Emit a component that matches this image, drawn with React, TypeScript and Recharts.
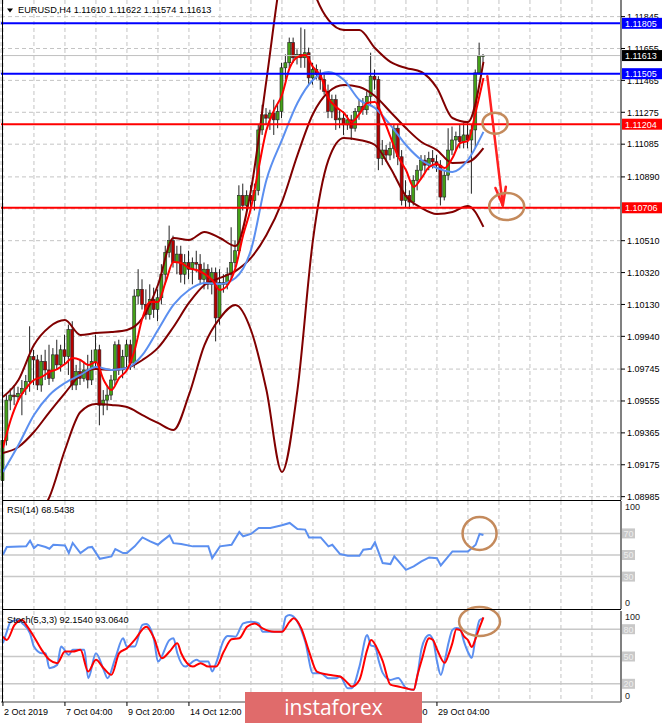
import React from "react";
import {
  ComposedChart,
  Bar,
  Line,
  XAxis,
  YAxis,
  CartesianGrid,
  ReferenceLine,
  ReferenceDot,
} from "recharts";

const FONT = "'Liberation Sans', Arial, sans-serif";
const SLOTS = 160; // bar slots visible across the chart (incl. right shift)
const P_MIN = 1.08965;
const P_MAX = 1.11944;

// ---------- EURUSD H4 candles (bar 0 = 2 Oct 2019 12:00) ----------
const opens = [
  1.0908, 1.0932, 1.0956, 1.0959, 1.0958, 1.096, 1.0963, 1.0967, 1.0982, 1.098,
  1.0965, 1.0979, 1.0974, 1.0969, 1.0983, 1.0977, 1.0986, 1.0982, 1.0998, 1.0965,
  1.0973, 1.0969, 1.0974, 1.0968, 1.0979, 1.0986, 1.0953, 1.0956, 1.0959, 1.0968,
  1.0989, 1.0974, 1.0982, 1.0989, 1.0978, 1.1018, 1.1022, 1.1013, 1.1007, 1.1016,
  1.101, 1.1017, 1.1031, 1.1044, 1.1051, 1.1038, 1.1043, 1.1031, 1.1038, 1.1034,
  1.1038, 1.1037, 1.1028, 1.1034, 1.1025, 1.1032, 1.1005, 1.1026, 1.1025, 1.1031,
  1.1038, 1.1045, 1.1078, 1.1072, 1.1078, 1.1075, 1.1081, 1.1117, 1.1126, 1.1124,
  1.1127, 1.1123, 1.1128, 1.1154, 1.1157, 1.1169, 1.116, 1.1162, 1.116, 1.1163,
  1.1148, 1.1153, 1.115, 1.1147, 1.114, 1.1128, 1.1135, 1.1123, 1.1124, 1.112,
  1.1123, 1.1118, 1.1128, 1.1131, 1.1129, 1.1137, 1.1149, 1.1147, 1.11, 1.1105,
  1.1102, 1.1106, 1.1118, 1.1101, 1.1075, 1.1078, 1.1074, 1.1087, 1.1093, 1.1099,
  1.1096, 1.11, 1.1098, 1.1096, 1.1077, 1.109, 1.1105, 1.1111, 1.1113, 1.111,
  1.1114, 1.1111, 1.1117, 1.1151, 1.1161,
];
const highs = [
  1.0938, 1.0959, 1.0963, 1.0965, 1.0964, 1.0968, 1.0971, 1.1, 1.0986, 1.0983,
  1.0983, 1.0986, 1.0989, 1.0987, 1.0992, 1.0989, 1.0995, 1.1001, 1.1003, 1.0977,
  1.098, 1.0979, 1.0983, 1.0986, 1.0995, 1.0989, 1.0962, 1.0965, 1.0971, 1.0991,
  1.0992, 1.0986, 1.0992, 1.0992, 1.1022, 1.1034, 1.1028, 1.1022, 1.1025, 1.1023,
  1.1022, 1.1037, 1.1048, 1.106, 1.1054, 1.1048, 1.1048, 1.1043, 1.1045, 1.1041,
  1.1045, 1.1043, 1.1038, 1.1037, 1.1035, 1.1035, 1.1034, 1.1031, 1.1035, 1.1059,
  1.1051, 1.1084, 1.1085, 1.1081, 1.1084, 1.1085, 1.112, 1.1132, 1.113, 1.1129,
  1.1135, 1.1132, 1.1157, 1.1162, 1.1172, 1.1172, 1.1165, 1.1178, 1.1177, 1.1166,
  1.1157, 1.1156, 1.1153, 1.115, 1.1144, 1.1138, 1.1138, 1.1129, 1.1128, 1.1126,
  1.1126, 1.113, 1.1135, 1.1136, 1.114, 1.1163, 1.1153, 1.1149, 1.1111, 1.1108,
  1.111, 1.112, 1.112, 1.1105, 1.1087, 1.1081, 1.109, 1.1096, 1.1102, 1.1102,
  1.1104, 1.1105, 1.1102, 1.1099, 1.1093, 1.1118, 1.1119, 1.1116, 1.112, 1.1121,
  1.1121, 1.112, 1.1153, 1.1169, 1.11622,
];
const lows = [
  1.0902, 1.0929, 1.095, 1.0953, 1.0955, 1.0947, 1.0959, 1.0961, 1.0965, 1.0962,
  1.0961, 1.0968, 1.0965, 1.0967, 1.0974, 1.0973, 1.0977, 1.0971, 1.0962, 1.0962,
  1.0965, 1.0967, 1.0963, 1.0965, 1.0974, 1.0941, 1.0947, 1.095, 1.0956, 1.0965,
  1.0971, 1.0969, 1.0974, 1.0974, 1.0975, 1.1013, 1.101, 1.1004, 1.1004, 1.1005,
  1.1003, 1.1013, 1.1025, 1.1041, 1.1035, 1.1031, 1.1026, 1.1025, 1.1028, 1.1025,
  1.1032, 1.1025, 1.1022, 1.1022, 1.1019, 1.0991, 1.1001, 1.102, 1.1022, 1.1028,
  1.1035, 1.1043, 1.1069, 1.1068, 1.107, 1.1069, 1.1078, 1.1114, 1.112, 1.1117,
  1.1114, 1.1118, 1.1124, 1.1147, 1.1154, 1.1157, 1.1156, 1.1154, 1.1154, 1.1144,
  1.1144, 1.1147, 1.1141, 1.1138, 1.1124, 1.1124, 1.1117, 1.1118, 1.1114, 1.1117,
  1.1111, 1.1116, 1.1123, 1.1126, 1.1126, 1.1132, 1.1141, 1.1093, 1.1096, 1.1098,
  1.1099, 1.11, 1.1096, 1.1072, 1.1071, 1.107, 1.1072, 1.1081, 1.1088, 1.1092,
  1.1093, 1.1094, 1.1092, 1.1072, 1.1075, 1.1087, 1.1102, 1.1105, 1.1106, 1.1106,
  1.1106, 1.1079, 1.1106, 1.115, 1.11574,
];
const closes = [
  1.0932, 1.0956, 1.0959, 1.0958, 1.096, 1.0963, 1.0967, 1.0982, 1.098, 1.0965,
  1.0979, 1.0974, 1.0969, 1.0983, 1.0977, 1.0986, 1.0982, 1.0998, 1.0965, 1.0973,
  1.0969, 1.0974, 1.0968, 1.0979, 1.0986, 1.0953, 1.0956, 1.0959, 1.0968, 1.0989,
  1.0974, 1.0982, 1.0989, 1.0978, 1.1018, 1.1022, 1.1013, 1.1007, 1.1016, 1.101,
  1.1017, 1.1031, 1.1044, 1.1051, 1.1038, 1.1043, 1.1031, 1.1038, 1.1034, 1.1038,
  1.1037, 1.1028, 1.1034, 1.1025, 1.1032, 1.1005, 1.1026, 1.1025, 1.1031, 1.1038,
  1.1045, 1.1078, 1.1072, 1.1078, 1.1075, 1.1081, 1.1117, 1.1126, 1.1124, 1.1127,
  1.1123, 1.1128, 1.1154, 1.1157, 1.1169, 1.116, 1.1162, 1.116, 1.1163, 1.1148,
  1.1153, 1.115, 1.1147, 1.114, 1.1128, 1.1135, 1.1123, 1.1124, 1.112, 1.1123,
  1.1118, 1.1128, 1.1131, 1.1129, 1.1137, 1.1149, 1.1147, 1.11, 1.1105, 1.1102,
  1.1106, 1.1118, 1.1101, 1.1075, 1.1078, 1.1074, 1.1087, 1.1093, 1.1099, 1.1096,
  1.11, 1.1098, 1.1096, 1.1077, 1.109, 1.1105, 1.1111, 1.1113, 1.111, 1.1114,
  1.1111, 1.1117, 1.1151, 1.1161, 1.11613,
];

// ---------- indicators ----------
// Bollinger bands and blue MA: one reading every 4 bars (bar 0, 4, 8 ... 124)
const bbUpper = [
  1.09579, 1.0968, 1.09888, 1.09996, 1.10037, 1.09948, 1.0996, 1.09966, 1.09978, 1.10049,
  1.10246, 1.10526, 1.10514, 1.10562, 1.10526, 1.10478, 1.10812, 1.11467, 1.12123, 1.12421,
  1.12015, 1.11825, 1.11765, 1.11765, 1.11658, 1.11575, 1.11539, 1.11515, 1.1142, 1.11241,
  1.11217, 1.11575,
];
const bbMiddle = [
  1.09245, 1.09281, 1.0937, 1.09489, 1.09602, 1.0971, 1.09745, 1.0974, 1.09751, 1.09799,
  1.09871, 1.09996, 1.10139, 1.10246, 1.10288, 1.10329, 1.10407, 1.10544, 1.1074, 1.1102,
  1.11265, 1.11396, 1.11438, 1.11426, 1.11372, 1.11277, 1.11181, 1.11098, 1.1105, 1.10973,
  1.10979, 1.11062,
];
const bbLower = [
  1.08911, 1.08882, 1.08852, 1.08983, 1.09263, 1.09489, 1.09537, 1.09531, 1.09519, 1.09471,
  1.09424, 1.09382, 1.09591, 1.09888, 1.10049, 1.10127, 1.09978, 1.0962, 1.09132, 1.0962,
  1.10514, 1.10991, 1.11122, 1.1111, 1.1108, 1.10943, 1.10776, 1.10705, 1.10669, 1.10681,
  1.10717, 1.10592,
];
const maBlue = [
  1.09132, 1.09293, 1.09471, 1.09591, 1.09662, 1.0971, 1.09757, 1.0974, 1.09751, 1.09829,
  1.09978, 1.10127, 1.10216, 1.10258, 1.10252, 1.10288, 1.10454, 1.10872, 1.1111, 1.1133,
  1.11467, 1.11515, 1.11467, 1.11348, 1.11301, 1.11199, 1.1108, 1.10991, 1.10943, 1.10919,
  1.10991, 1.11158,
];
// red MA: one reading every 2 bars (bar 0, 2, 4 ... 124)
const maRed = [
  1.09275, 1.09442, 1.09561, 1.09632, 1.0968, 1.09698, 1.09728, 1.09745, 1.09775, 1.09811,
  1.09799, 1.09769, 1.09787, 1.0968, 1.0962, 1.09692, 1.0974, 1.09859, 1.10049, 1.10145,
  1.10145, 1.10264, 1.10383, 1.10377, 1.10347, 1.10335, 1.10312, 1.10276, 1.10216, 1.10246,
  1.10347, 1.10544, 1.10705, 1.10943, 1.11169, 1.11289, 1.11378, 1.11539, 1.11604, 1.11616,
  1.11545, 1.11491, 1.1136, 1.11306, 1.11271, 1.11217, 1.11265, 1.1133, 1.11336, 1.11247,
  1.11128, 1.11009, 1.10931, 1.1083, 1.10883, 1.10949, 1.10967, 1.10943, 1.11003, 1.11092,
  1.11104, 1.11277, 1.11479,
];

const rsiBars = [
  0, 1, 6, 7, 8, 9, 11, 12, 13, 16, 17, 18, 20, 22, 23, 25, 28, 29, 31, 32, 34, 36, 38, 40,
  41, 43, 44, 46, 49, 51, 53, 54, 56, 59, 61, 62, 64, 66, 69, 72, 74, 76, 78, 79, 82, 84, 85,
  87, 89, 92, 93, 95, 96, 98, 100, 101, 104, 106, 108, 110, 112, 113, 116, 120, 122, 123, 124,
];
const rsiValues = [
  50.2, 57.4, 58, 63.3, 56.4, 59.5, 57.4, 55.8, 59.5, 58.9, 51.8, 61.1, 51.8, 57, 57.5, 46.5,
  48.7, 55.5, 51.8, 51.8, 58, 66.3, 62.6, 59.5, 62.6, 68.2, 61, 60.2, 58, 58, 58, 47.1, 58,
  59.5, 71.3, 67.3, 69.5, 75, 75, 77.5, 79.7, 74.1, 73.5, 66.3, 66.3, 58, 59.5, 50.9, 49.3,
  49.3, 54.9, 55.8, 61.7, 42.5, 41.6, 48.7, 36.3, 39.4, 44, 47.7, 47.1, 40.3, 53.3, 53.3, 59.5,
  69.5, 68.5,
];

const stochKBars = [
  0, 1, 2, 4, 5, 7, 8, 10, 11, 12, 14, 15, 17, 18, 21, 22, 24, 26, 27, 29, 31, 32, 34, 36, 37,
  39, 40, 43, 44, 45, 47, 50, 51, 53, 54, 55, 57, 58, 60, 62, 64, 66, 67, 69, 72, 73, 74, 76,
  78, 80, 82, 84, 86, 87, 89, 90, 92, 94, 95, 96, 97, 98, 100, 102, 104, 106, 107, 108, 109,
  110, 111, 112, 113, 114, 115, 116, 117, 118, 119, 120, 121, 122, 123, 124,
];
const stochK = [
  64.6, 77.2, 88.3, 90.1, 86.4, 75.5, 60.9, 53.6, 53.6, 37.1, 40.8, 60.9, 51.7, 57.3, 57.3,
  26.2, 53.6, 35.3, 26.2, 48.1, 70, 60.9, 60.9, 84.7, 85.7, 68.2, 44.4, 68.2, 70, 53.6, 38.9,
  46.3, 44.4, 44.4, 33.5, 42.6, 68.2, 72.6, 71.8, 86.4, 88.3, 86.4, 77.2, 77.2, 77.2, 93.8,
  95.6, 88.3, 66.4, 31.6, 31.6, 26.2, 26.2, 28, 15.2, 15.2, 38.9, 73.7, 62, 60.9, 45, 32, 24.3,
  26.5, 15.6, 13.4, 30, 58, 70, 73.7, 68.2, 45, 29.8, 45, 65, 79.2, 81.4, 80, 66, 55, 48.5, 72,
  90, 92.2,
];
const stochDBars = [
  0, 1, 3, 5, 6, 8, 10, 12, 14, 16, 18, 20, 22, 24, 26, 28, 30, 32, 34, 37, 39, 41, 43, 45, 46,
  49, 51, 53, 55, 57, 59, 61, 63, 65, 67, 70, 72, 74, 75, 77, 79, 81, 84, 87, 89, 90, 92, 94,
  95, 97, 98, 100, 102, 104, 106, 107, 108, 110, 111, 112, 114, 115, 116, 117, 118, 119, 120,
  121, 122, 123, 124,
];
const stochD = [
  71.8, 68.2, 84.7, 90.1, 84.7, 71.8, 57.3, 46.3, 42.6, 55.4, 55.4, 57.3, 33.5, 46.3, 37.1,
  29.9, 53.6, 59.1, 68.2, 82.8, 70, 48.1, 55.4, 64.6, 53.6, 38.9, 42.6, 38.9, 38.9, 55.4, 68.9,
  70, 82.8, 86.4, 80.9, 77.2, 77.2, 88.3, 92, 80.9, 55.4, 33.5, 29.9, 28, 20.7, 17, 24.3, 57.3,
  68.2, 55, 45, 19, 17, 15, 13.4, 30, 45, 70, 68, 58, 43, 52, 65, 80, 79, 72, 68, 60.5, 70, 82,
  93.1,
];

// ---------- axes / levels ----------
const priceTicks = [
  1.11845, 1.11655, 1.11465, 1.11275, 1.11085, 1.1089, 1.107, 1.1051, 1.1032, 1.1013, 1.0994,
  1.09745, 1.09555, 1.09365, 1.09175, 1.08985,
];
const hiddenPriceLabels = [1.107]; // covered by the 1.10706 tag
const priceTags = [
  { price: 1.11805, color: "#0000ff" },
  { price: 1.11505, color: "#0000ff" },
  { price: 1.11204, color: "#ff0000" },
  { price: 1.10706, color: "#ff0000" },
  { price: 1.11613, color: "#000000" },
];
const blueLevels = [1.11805, 1.11505];
const redLevels = [1.11204, 1.10706];
const bidPrice = 1.11613;
const gridBars = [0, 8, 16, 24, 32, 40, 48, 56, 64, 72, 80, 88, 96, 104, 112, 120, 128, 136, 144, 152];
// labels at bars 64 (17 Oct 04:00) and 80 (21 Oct 20:00) sit under the watermark
const timeLabelBars = [0, 16, 32, 48, 96, 112];
const timeLabels = ["2 Oct 2019", "7 Oct 04:00", "9 Oct 20:00", "14 Oct 12:00", "24 Oct 12:00", "29 Oct 04:00"];

// ---------- table ----------
type Row = { i: number; [k: string]: any };
const rows: Row[] = Array.from({ length: SLOTS }, (_, i) => ({ i }));
opens.forEach((o, i) => {
  rows[i].o = o;
  rows[i].h = highs[i];
  rows[i].l = lows[i];
  rows[i].c = closes[i];
  rows[i].hl = [lows[i], highs[i]];
});
bbUpper.forEach((v, k) => (rows[k * 4].up = v));
bbMiddle.forEach((v, k) => (rows[k * 4].mid = v));
bbLower.forEach((v, k) => (rows[k * 4].low = v));
maBlue.forEach((v, k) => (rows[k * 4].blue = v));
maRed.forEach((v, k) => (rows[k * 2].red = v));
rsiBars.forEach((b, k) => (rows[b].rsi = rsiValues[k]));
stochKBars.forEach((b, k) => (rows[b].sk = stochK[k]));
stochDBars.forEach((b, k) => (rows[b].sd = stochD[k]));

const BULL = "#45a118";
const BEAR = "#b50000";
const GRID = "#c4c4c4";
const RING = "#c48a5c";
const MAROON = "#800000";
const CORN = "#5b8ff0";

function Candle(props: any) {
  const { x, y, width, height, payload } = props;
  if (!payload || payload.o == null) return null;
  const { o, h, l, c } = payload;
  const cx = x + width / 2;
  const k = height / (h - l || 1);
  const yo = y + (h - o) * k;
  const yc = y + (h - c) * k;
  const top = Math.min(yo, yc);
  const bh = Math.max(Math.abs(yo - yc), 1);
  return (
    <g>
      <line x1={cx} x2={cx} y1={y} y2={y + height} stroke="#222" strokeWidth={1} />
      <rect x={cx - 1.5} y={top} width={3} height={bh} fill={c >= o ? BULL : BEAR} stroke="#222" strokeWidth={0.6} />
    </g>
  );
}

function PriceTick(props: any) {
  const { x, y, payload } = props;
  const v: number = payload.value;
  const tag = priceTags.find((t) => t.price === v);
  if (tag) {
    return (
      <g>
        <rect x={x + 1} y={y - 5.5} width={40} height={11} fill={tag.color} />
        <text x={x + 4} y={y + 3.3} fill="#fff" fontSize={9} fontFamily={FONT}>
          {v.toFixed(5)}
        </text>
      </g>
    );
  }
  return (
    <g>
      <line x1={x} x2={x + 4} y1={y} y2={y} stroke="#000" />
      <text x={x + 6} y={y + 3.3} fill="#000" fontSize={9} fontFamily={FONT}>
        {v.toFixed(5)}
      </text>
    </g>
  );
}

function OscTick(props: any) {
  const { x, y, payload } = props;
  const v: number = payload.value;
  if (v === 100)
    return (
      <text x={x + 4} y={y + 9} fill="#222" fontSize={9} fontFamily={FONT}>
        100
      </text>
    );
  if (v === 0)
    return (
      <text x={x + 4} y={y - 3} fill="#222" fontSize={9} fontFamily={FONT}>
        0
      </text>
    );
  return (
    <g>
      <rect x={x + 1} y={y - 5} width={13} height={10} fill="#c8c8c8" />
      <text x={x + 2.5} y={y + 3.3} fill="#eeeeee" fontSize={9} fontFamily={FONT}>
        {v}
      </text>
    </g>
  );
}

function TimeTick(props: any) {
  const { x, y, payload } = props;
  const idx = timeLabelBars.indexOf(payload.value);
  if (idx < 0) return null;
  return (
    <g>
      <line x1={x} x2={x} y1={y} y2={y + 4} stroke="#000" />
      <text x={x + 1} y={y + 13} fill="#000" fontSize={9} fontFamily={FONT}>
        {timeLabels[idx]}
      </text>
    </g>
  );
}

const ellipse = (rx: number, ry: number) => (props: any) =>
  <ellipse cx={props.cx} cy={props.cy} rx={rx} ry={ry} fill="none" stroke={RING} strokeWidth={2.5} />;

function Arrow(props: any) {
  const { x1, y1, x2, y2 } = props;
  const ang = Math.atan2(y2 - y1, x2 - x1);
  const L = 19;
  const s = 0.28;
  const a1 = ang + Math.PI - s;
  const a2 = ang + Math.PI + s;
  return (
    <g stroke="#ff2020" strokeWidth={2.5} fill="none" strokeLinecap="round">
      <line x1={x1} y1={y1} x2={x2} y2={y2} />
      <line x1={x2} y1={y2} x2={x2 + L * Math.cos(a1)} y2={y2 + L * Math.sin(a1)} />
      <line x1={x2} y1={y2} x2={x2 + L * Math.cos(a2)} y2={y2 + L * Math.sin(a2)} />
    </g>
  );
}

const lineProps = { dot: false, connectNulls: true, isAnimationActive: false, activeDot: false } as const;

export default function App() {
  const axisPrices = [...priceTicks.filter((p) => !hiddenPriceLabels.includes(p)), ...priceTags.map((t) => t.price)];
  return (
    <div style={{ position: "fixed", left: 0, top: 0, width: 665, height: 723, background: "#fff", overflow: "hidden" }}>
      {/* main price panel (plot area y 0..500) */}
      <div style={{ position: "absolute", left: 0, top: 0 }}>
        <ComposedChart width={665} height={504} data={rows} margin={{ top: 0, right: 0, bottom: 4, left: 1 }}>
          <XAxis dataKey="i" type="category" scale="band" hide ticks={gridBars} interval={0} />
          <YAxis
            orientation="right"
            width={44}
            type="number"
            domain={[P_MIN, P_MAX]}
            allowDataOverflow
            ticks={axisPrices}
            interval={0}
            tick={PriceTick}
            tickLine={false}
            tickSize={0}
            tickMargin={0}
            axisLine={{ stroke: "#808080", strokeWidth: 2 }}
          />
          <CartesianGrid horizontalValues={priceTicks} stroke={GRID} strokeDasharray="4 3" />
          <ReferenceLine y={bidPrice} stroke="#c0c0c0" strokeWidth={1} />
          <Bar dataKey="hl" barSize={3} shape={Candle} isAnimationActive={false} />
          <Line dataKey="up" stroke={MAROON} strokeWidth={2} type="monotone" {...lineProps} />
          <Line dataKey="mid" stroke={MAROON} strokeWidth={2} type="monotone" {...lineProps} />
          <Line dataKey="low" stroke={MAROON} strokeWidth={2} type="monotone" {...lineProps} />
          <Line dataKey="blue" stroke={CORN} strokeWidth={2} type="monotone" {...lineProps} />
          <Line dataKey="red" stroke="#ff0000" strokeWidth={2} type="monotone" {...lineProps} />
          {blueLevels.map((p) => (
            <ReferenceLine key={p} y={p} stroke="#0000ff" strokeWidth={2} />
          ))}
          {redLevels.map((p) => (
            <ReferenceLine key={p} y={p} stroke="#ff0000" strokeWidth={2} />
          ))}
          <ReferenceLine segment={[{ x: 125, y: 1.1149 }, { x: 129, y: 1.1072 }]} shape={Arrow} />
          <ReferenceDot x={127} y={1.1121} shape={ellipse(12.5, 10.5)} />
          <ReferenceDot x={130} y={1.10714} shape={ellipse(17.5, 13.5)} />
        </ComposedChart>
      </div>

      {/* RSI panel */}
      <div style={{ position: "absolute", left: 0, top: 501 }}>
        <ComposedChart width={665} height={108} data={rows} margin={{ top: 0, right: 0, bottom: 0, left: 1 }}>
          <XAxis dataKey="i" type="category" scale="band" hide ticks={gridBars} interval={0} />
          <YAxis
            orientation="right"
            width={44}
            type="number"
            domain={[0, 100]}
            ticks={[0, 30, 50, 70, 100]}
            interval={0}
            tick={OscTick}
            tickLine={false}
            tickSize={0}
            tickMargin={0}
            axisLine={{ stroke: "#808080", strokeWidth: 2 }}
          />
          <CartesianGrid horizontal={false} stroke={GRID} strokeDasharray="4 3" />
          {[70, 50, 30].map((v) => (
            <ReferenceLine key={v} y={v} stroke="#c8c8c8" strokeWidth={1.5} />
          ))}
          <Line dataKey="rsi" stroke={CORN} strokeWidth={2} type="linear" {...lineProps} />
          <ReferenceDot x={123} y={70} shape={ellipse(17, 16.5)} />
        </ComposedChart>
      </div>

      {/* Stochastic panel + time axis */}
      <div style={{ position: "absolute", left: 0, top: 601 }}>
        <ComposedChart width={665} height={122} data={rows} margin={{ top: 10, right: 0, bottom: 0, left: 1 }}>
          <XAxis
            dataKey="i"
            type="category"
            scale="band"
            ticks={gridBars}
            interval={0}
            height={21}
            tick={TimeTick}
            tickLine={false}
            tickSize={0}
            tickMargin={0}
            axisLine={{ stroke: "#444", strokeWidth: 1 }}
          />
          <YAxis
            orientation="right"
            width={44}
            type="number"
            domain={[0, 100]}
            ticks={[0, 20, 50, 80, 100]}
            interval={0}
            tick={OscTick}
            tickLine={false}
            tickSize={0}
            tickMargin={0}
            axisLine={{ stroke: "#808080", strokeWidth: 2 }}
          />
          <CartesianGrid horizontal={false} stroke={GRID} strokeDasharray="4 3" />
          {[80, 50, 20].map((v) => (
            <ReferenceLine key={v} y={v} stroke="#c8c8c8" strokeWidth={1.5} />
          ))}
          <Line dataKey="sk" stroke={CORN} strokeWidth={2} type="monotone" {...lineProps} />
          <Line dataKey="sd" stroke="#ff0000" strokeWidth={2} type="monotone" {...lineProps} />
          <ReferenceDot x={123} y={88.5} shape={ellipse(20.5, 14.5)} />
        </ComposedChart>
      </div>

      {/* frame, titles, watermark */}
      <svg width={665} height={723} style={{ position: "absolute", left: 0, top: 0, pointerEvents: "none" }}>
        <line x1={2.5} y1={0} x2={2.5} y2={702} stroke="#000" strokeWidth={1} />
        <line x1={2} y1={500.5} x2={621} y2={500.5} stroke="#000" strokeWidth={1} />
        <line x1={2} y1={609.5} x2={621} y2={609.5} stroke="#000" strokeWidth={1} />
        <path d="M7 8.5 L13 8.5 L10 12.5 Z" fill="#000" />
        <text x={18} y={13.3} fontSize={9.2} fontFamily={FONT} fill="#000">
          EURUSD,H4  1.11610 1.11622 1.11574 1.11613
        </text>
        <text x={7} y={512.7} fontSize={9.2} fontFamily={FONT} fill="#000">
          RSI(14) 68.5438
        </text>
        <text x={7} y={622.7} fontSize={9.2} fontFamily={FONT} fill="#000">
          Stoch(5,3,3) 92.1540 93.0640
        </text>
        <rect x={245} y={692} width={177} height={31} fill="#e06b6b" />
        <text x={333.5} y={714.5} textAnchor="middle" fontSize={21} fontFamily="'Open Sans', sans-serif" fill="#fff">
          instaforex
        </text>
      </svg>
    </div>
  );
}
